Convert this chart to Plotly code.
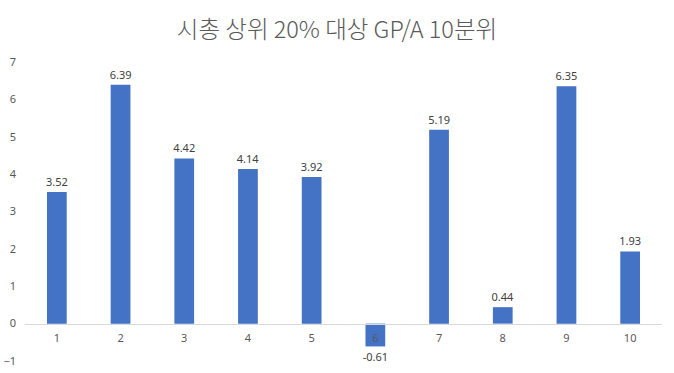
import plotly.graph_objects as go

categories = ["1", "2", "3", "4", "5", "6", "7", "8", "9", "10"]
values = [3.52, 6.39, 4.42, 4.14, 3.92, -0.61, 5.19, 0.44, 6.35, 1.93]
y_ticks = [-1, 0, 1, 2, 3, 4, 5, 6, 7]
title = "시총 상위 20% 대상 GP/A 10분위"

title_font = "Noto Sans CJK KR, sans-serif"
num_font = "Noto Sans, Open Sans, sans-serif"

fig = go.Figure(go.Bar(
    x=categories,
    y=values,
    marker=dict(color="#4472C4", line=dict(width=0)),
    width=0.31,
    text=[f"{v:.2f}" for v in values],
    textposition="outside",
    constraintext="none",
    textfont=dict(size=11, color="#404040", family=num_font),
    cliponaxis=False,
))

fig.update_layout(
    width=674, height=373,
    margin=dict(l=25, r=12, t=62, b=12, autoexpand=False),
    plot_bgcolor="white", paper_bgcolor="white",
    title=dict(text=title, x=0.5, xanchor="center", y=0.92, yanchor="middle",
               font=dict(size=23.5, color="#595959", family=title_font, weight=300)),
    showlegend=False,
    font=dict(family=num_font),
)
fig.update_xaxes(
    type="category", automargin=False,
    anchor="free", position=0.125,
    showline=True, linecolor="#D9D9D9", linewidth=1,
    showgrid=False, ticks="",
    tickfont=dict(size=11, color="#595959", family=num_font),
    ticklabelstandoff=4,
    range=[-0.5, 9.5],
)
fig.update_yaxes(
    range=[-1, 7], tickvals=y_ticks, automargin=False,
    showgrid=False, zeroline=False, showline=False,
    tickfont=dict(size=11, color="#595959", family=num_font),
    ticklabelstandoff=8,
)

fig.write_html(
    "out.html",
    config={"displayModeBar": False},
    post_script="document.body.style.margin='0';document.body.style.overflow='hidden';",
)
